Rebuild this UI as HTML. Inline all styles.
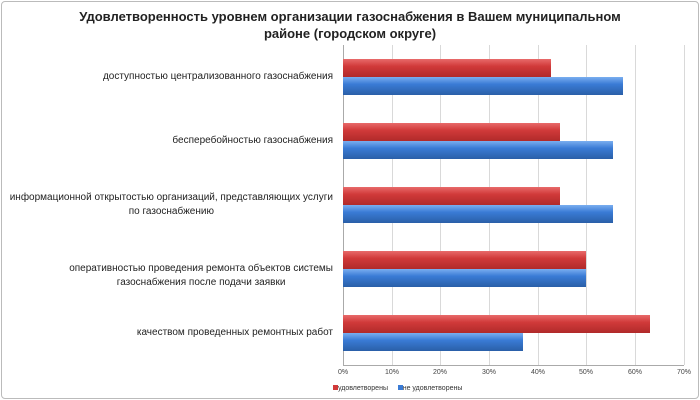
<!DOCTYPE html><html><head><meta charset="utf-8"><style>
body{margin:0;background:#fff;}
.w{position:relative;width:700px;height:400px;font-family:"Liberation Sans",sans-serif;overflow:hidden}
.b{position:absolute;left:1px;top:1px;width:696px;height:396px;border:1px solid #bbb;border-radius:4px}
.t{position:absolute;left:0;width:700px;text-align:center;font-weight:bold;font-size:13px;color:#222}
.l{position:absolute;left:0;width:333px;text-align:right;font-size:10px;color:#222;line-height:14px;white-space:nowrap}
.l span{display:inline-block;text-align:center}
.g{position:absolute;top:45px;height:320px;width:1px;background:#d9d9d9}
.x{position:absolute;top:369px;font-size:7px;color:#444;width:30px;text-align:center}
.r{position:absolute;left:343px;height:18px;background:linear-gradient(#e86a6a,#d13a3a 40%,#b02a2a);}
.u{position:absolute;left:343px;height:18px;background:linear-gradient(#7aaef0,#3a7bd5 40%,#2a5fa8);}
</style></head><body><div class="w"><div class="b"></div>
<div class="t" style="top:9px">Удовлетворенность уровнем организации газоснабжения в Вашем муниципальном</div>
<div class="t" style="top:26px">районе (городском округе)</div>
<div class="g" style="left:343px;background:#aaa"></div>
<div class="g" style="left:392px"></div><div class="g" style="left:440px"></div><div class="g" style="left:489px"></div><div class="g" style="left:538px"></div><div class="g" style="left:586px"></div><div class="g" style="left:635px"></div><div class="g" style="left:684px"></div>
<div style="position:absolute;left:343px;top:365px;width:341px;height:1px;background:#aaa"></div>
<div class="x" style="left:328px">0%</div><div class="x" style="left:377px">10%</div><div class="x" style="left:425px">20%</div><div class="x" style="left:474px">30%</div><div class="x" style="left:523px">40%</div><div class="x" style="left:571px">50%</div><div class="x" style="left:620px">60%</div><div class="x" style="left:669px">70%</div>
<div class="r" style="top:59px;width:208px"></div><div class="u" style="top:77px;width:280px"></div>
<div class="r" style="top:123px;width:217px"></div><div class="u" style="top:141px;width:270px"></div>
<div class="r" style="top:187px;width:217px"></div><div class="u" style="top:205px;width:270px"></div>
<div class="r" style="top:251px;width:243px"></div><div class="u" style="top:269px;width:243px"></div>
<div class="r" style="top:315px;width:307px"></div><div class="u" style="top:333px;width:180px"></div>
<div class="l" style="top:70px">доступностью централизованного газоснабжения</div>
<div class="l" style="top:134px">бесперебойностью газоснабжения</div>
<div class="l" style="top:191px"><span>информационной открытостью организаций, представляющих услуги<br>по газоснабжению</span></div>
<div class="l" style="top:262px"><span>оперативностью проведения ремонта объектов системы<br>газоснабжения после подачи заявки</span></div>
<div class="l" style="top:326px">качеством проведенных ремонтных работ</div>
<div style="position:absolute;top:385px;left:333px;font-size:7px;color:#333"><span style="display:inline-block;width:5px;height:5px;background:#d13a3a"></span>удовлетворены &nbsp;&nbsp;&nbsp; <span style="display:inline-block;width:5px;height:5px;background:#3a7bd5"></span>не удовлетворены</div>
</div></body></html>
